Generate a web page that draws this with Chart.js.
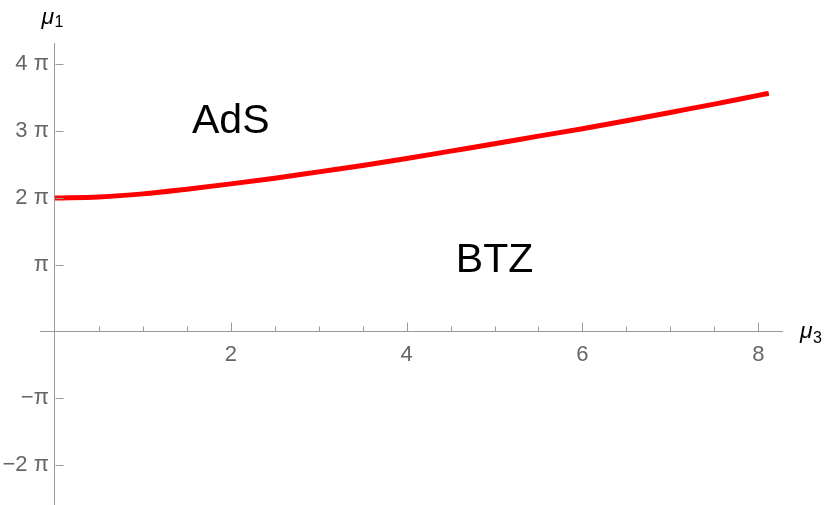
<!DOCTYPE html>
<html>
<head>
<meta charset="utf-8">
<script src="https://cdn.jsdelivr.net/npm/chart.js@4.4.1/dist/chart.umd.min.js"></script>
<style>
  html, body { margin: 0; padding: 0; background: #fff; }
  #wrap { width: 830px; height: 505px; }
</style>
</head>
<body>
<div id="wrap"><canvas id="chart" width="830" height="505"></canvas></div>
<script>
// boundary curve, mu1 in units of pi
const mu3 = [0, 0.5, 1, 1.5, 2, 2.5, 3, 3.5, 4, 4.5, 5, 5.5, 6, 6.5, 7, 7.5, 8, 8.12];
const mu1 = [2.0, 2.015, 2.06, 2.13, 2.21, 2.295, 2.39, 2.485, 2.59, 2.7, 2.81, 2.925, 3.035, 3.155, 3.28, 3.405, 3.535, 3.566];

const xMajorTicks = [2, 4, 6, 8];
const xMinorTicks = [0.5, 1, 1.5, 2.5, 3, 3.5, 4.5, 5, 5.5, 6.5, 7, 7.5];
const yTicks = [-2, -1, 0, 1, 2, 3, 4];
const yTickLabels = ["\u22122 \u03c0", "\u2212\u03c0", "", "\u03c0", "2 \u03c0", "3 \u03c0", "4 \u03c0"];

const regionNames = ["AdS", "BTZ"];
const regionX = [2.0, 5.0];
const regionY = [3.14, 1.06];

const axisGrey = '#9a9a9a';
const labelGrey = '#666666';
const tickFont = { family: 'Liberation Sans, Arial, sans-serif', size: 22 };

// inward tick marks + region names + axis titles
const decor = {
  id: 'decor',
  afterDraw(chart) {
    const ctx = chart.ctx;
    const xs = chart.scales.x, ys = chart.scales.y;
    const x0 = Math.round(xs.getPixelForValue(0)) + 0.5;
    const y0 = Math.round(ys.getPixelForValue(0)) + 0.5;
    ctx.save();
    ctx.strokeStyle = axisGrey;
    ctx.lineWidth = 1;
    ctx.beginPath();
    xMajorTicks.forEach(v => {
      const px = Math.round(xs.getPixelForValue(v)) + 0.5;
      ctx.moveTo(px, y0); ctx.lineTo(px, y0 - 9);
    });
    xMinorTicks.forEach(v => {
      const px = Math.round(xs.getPixelForValue(v)) + 0.5;
      ctx.moveTo(px, y0); ctx.lineTo(px, y0 - 5);
    });
    yTicks.forEach(v => {
      const py = Math.round(ys.getPixelForValue(v)) + 0.5;
      ctx.moveTo(x0, py); ctx.lineTo(x0 + 8, py);
    });
    ctx.stroke();

    ctx.fillStyle = '#000';
    ctx.font = '41px Liberation Sans, Arial, sans-serif';
    ctx.textAlign = 'center';
    ctx.textBaseline = 'middle';
    regionNames.forEach((name, i) => {
      ctx.fillText(name, xs.getPixelForValue(regionX[i]), ys.getPixelForValue(regionY[i]));
    });

    // axis titles
    ctx.textAlign = 'left';
    ctx.textBaseline = 'alphabetic';
    ctx.font = 'italic 23px Liberation Sans, Arial, sans-serif';
    ctx.fillText('\u03bc', x0 - 14, 24);
    ctx.font = '16px Liberation Sans, Arial, sans-serif';
    ctx.fillText('1', x0 - 1, 27);

    const xEnd = xs.right;
    ctx.font = 'italic 23px Liberation Sans, Arial, sans-serif';
    ctx.fillText('\u03bc', xEnd + 18, y0 + 6);
    ctx.font = '16px Liberation Sans, Arial, sans-serif';
    ctx.fillText('3', xEnd + 31, y0 + 11);
    ctx.restore();
  }
};

const ctx = document.getElementById('chart');

new Chart(ctx, {
  type: 'scatter',
  data: {
    datasets: [{
      data: mu3.map((x, i) => ({ x: x, y: mu1[i] })),
      showLine: true,
      borderColor: '#ff0000',
      borderWidth: 5,
      pointRadius: 0,
      cubicInterpolationMode: 'monotone',
      fill: false
    }]
  },
  options: {
    responsive: false,
    animation: false,
    events: [],
    layout: { padding: { left: 40, right: 48, top: 43, bottom: 0 } },
    plugins: { legend: { display: false }, tooltip: { enabled: false } },
    scales: {
      x: {
        type: 'linear',
        min: -0.17,
        max: 8.27,
        position: { y: 0 },
        grid: { display: false, drawTicks: false },
        border: { color: axisGrey, width: 1 },
        ticks: {
          stepSize: 2,
          includeBounds: false,
          autoSkip: false,
          maxRotation: 0,
          padding: 10,
          color: labelGrey,
          font: tickFont,
          callback: v => (xMajorTicks.includes(v) ? String(v) : '')
        },
        afterFit(s) { s.height = 0; s.paddingLeft = 0; s.paddingRight = 0; }
      },
      y: {
        type: 'linear',
        min: -2.6,
        max: 4.32,
        position: { x: 0 },
        grid: { display: false, drawTicks: false },
        border: { color: axisGrey, width: 1 },
        ticks: {
          stepSize: 1,
          includeBounds: false,
          autoSkip: false,
          color: labelGrey,
          font: tickFont,
          // trailing space keeps the label clear of the axis line
          callback: v => {
            const i = yTicks.indexOf(v);
            return i >= 0 && yTickLabels[i] ? yTickLabels[i] + ' ' : '';
          }
        },
        afterFit(s) { s.width = 0; s.paddingTop = 0; s.paddingBottom = 0; }
      }
    }
  },
  plugins: [decor]
});
</script>
</body>
</html>
